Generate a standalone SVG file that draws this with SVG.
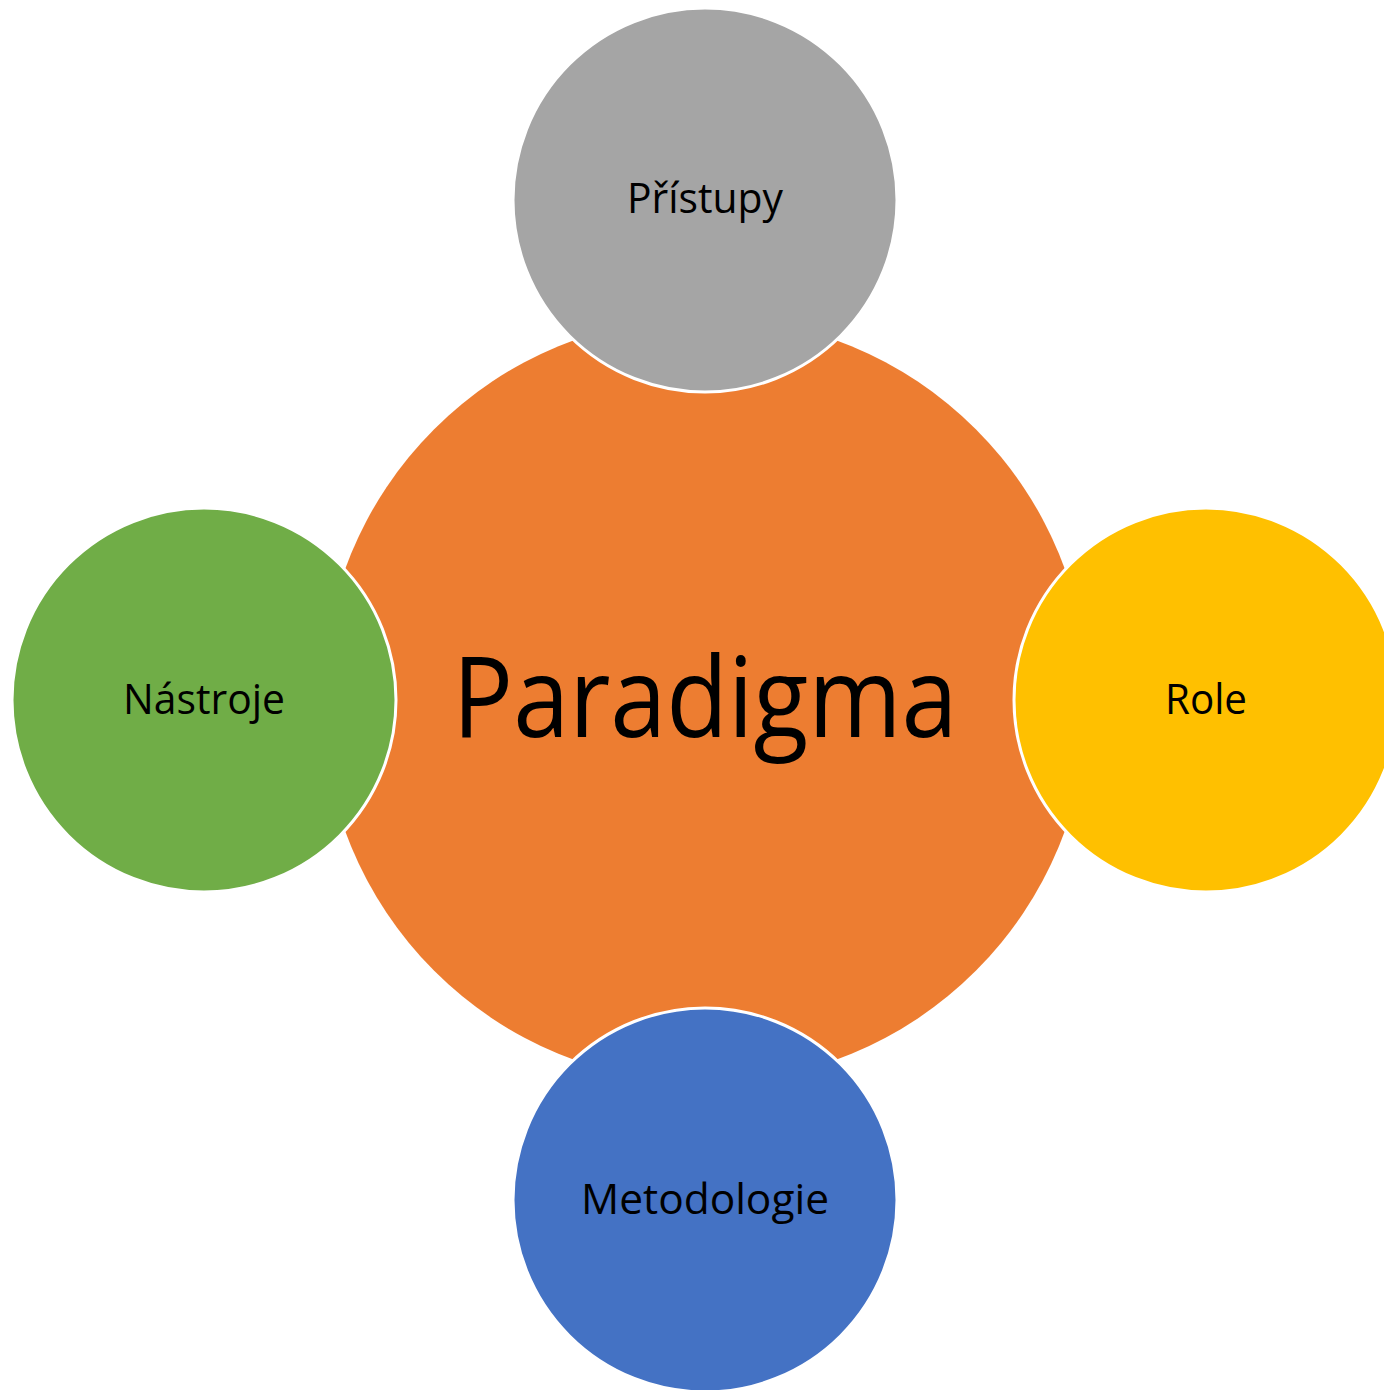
<svg xmlns="http://www.w3.org/2000/svg" width="1384" height="1390" viewBox="0 0 1384 1390">
<style>
.lbl{font-family:"Open Sans","Noto Sans","Liberation Sans",sans-serif;fill:#000;text-anchor:middle}
.sm{font-size:42px}
.big{font-size:112px}
.sat{stroke:#fff;stroke-width:3}
</style>
<rect width="1384" height="1390" fill="#fff"/>
<g id="connectors"></g>
<g id="paradigma">
<circle cx="705" cy="700" r="383" fill="#ED7D31"/>
<text class="lbl big" x="705" y="737" textLength="505" lengthAdjust="spacingAndGlyphs">Paradigma</text>
</g>
<g id="pristupy">
<circle class="sat" cx="705" cy="200" r="192" fill="#A5A5A5"/>
<text class="lbl sm" x="705" y="213" textLength="156" lengthAdjust="spacingAndGlyphs">Přístupy</text>
</g>
<g id="role">
<circle class="sat" cx="1206" cy="700" r="192" fill="#FFC000"/>
<text class="lbl sm" x="1206" y="714" textLength="82" lengthAdjust="spacingAndGlyphs">Role</text>
</g>
<g id="metodologie">
<circle class="sat" cx="705" cy="1200" r="192" fill="#4472C4"/>
<text class="lbl sm" x="705" y="1214" textLength="248" lengthAdjust="spacingAndGlyphs">Metodologie</text>
</g>
<g id="nastroje">
<circle class="sat" cx="204" cy="700" r="192" fill="#70AD47"/>
<text class="lbl sm" x="204" y="714" textLength="162" lengthAdjust="spacingAndGlyphs">Nástroje</text>
</g>
</svg>
